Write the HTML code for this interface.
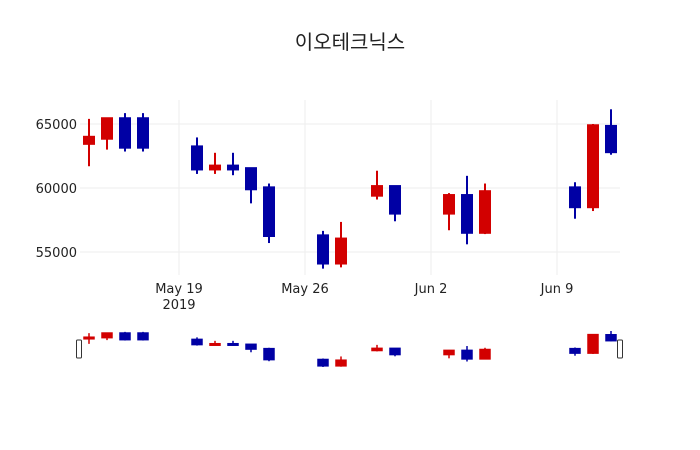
<!DOCTYPE html>
<html><head><meta charset="utf-8"><style>
body{margin:0;background:#fff;}
svg{display:block;font-family:"DejaVu Sans","Liberation Sans","Noto Sans CJK KR",sans-serif;}
</style></head><body>
<svg id="chart" width="700" height="450">
<rect width="700" height="450" fill="#fff"/>
<text x="350" y="49" text-anchor="middle" font-size="20" fill="#222" font-family="'Noto Sans CJK KR',sans-serif">이오테크닉스</text>
<g id="grid"></g><g id="main"></g><g id="slider"></g>
</svg>
<script>
const dates=["2019-05-14","2019-05-15","2019-05-16","2019-05-17","2019-05-20","2019-05-21","2019-05-22","2019-05-23","2019-05-24","2019-05-27","2019-05-28","2019-05-30","2019-05-31","2019-06-03","2019-06-04","2019-06-05","2019-06-10","2019-06-11","2019-06-12"];
const openV=[63450,63850,65450,65450,63250,61450,61750,61550,60050,56300,54100,59400,60150,58000,59450,56500,60050,58500,64850];
const highV=[65400,65450,65850,65850,63950,62750,62750,61550,60350,56650,57350,61350,60150,59600,60950,60350,60450,65000,66150];
const lowV=[61700,63000,62850,62850,61100,61100,61000,58800,55700,53700,53800,59100,57400,56700,55600,56400,57600,58200,62600];
const closeV=[64000,65450,63150,63150,61450,61750,61450,59900,56250,54100,56050,60150,58000,59450,56500,59750,58500,64900,62800];
const yTicks=[55000,60000,65000];
const xTicks=["2019-05-19","2019-05-26","2019-06-02","2019-06-09"];
const xTickLabels=["May 19","May 26","Jun 2","Jun 9"];

const NS="http://www.w3.org/2000/svg";
const x0=Date.parse("2019-05-13T12:00:00Z"), x1=Date.parse("2019-06-12T12:00:00Z");
const L=80,R=620;
function xs(d){return L+(Date.parse(d+"T00:00:00Z")-x0)/(x1-x0)*(R-L);}
function ys(v){return 124+(65000-v)/1000*12.8;}
const sMin=Math.min(...lowV), sMax=Math.max(...highV);
function ysS(v){return 367-(v-sMin)/(sMax-sMin)*36;}
function mk(tag,attrs,parent){const e=document.createElementNS(NS,tag);for(const k in attrs)e.setAttribute(k,attrs[k]);parent.appendChild(e);return e;}
const grid=document.getElementById('grid'),main=document.getElementById('main'),slider=document.getElementById('slider');
yTicks.forEach(v=>{
  const l=mk('line',{x1:L,x2:R,y1:ys(v),y2:ys(v),stroke:'#eee'},grid);
  
  
  const t=mk('text',{x:L-3,y:ys(v)+5,'text-anchor':'end','font-size':13,fill:'#222'},grid);
  t.textContent=v;
  
  
});
xTicks.forEach((d,i)=>{
  const x=xs(d);
  const l=mk('line',{x1:x,x2:x,y1:100,y2:275,stroke:'#eee'},grid);
  
  
  const t=mk('text',{x:x,y:293,'text-anchor':'middle','font-size':13,fill:'#222'},grid);
  t.textContent=xTickLabels[i];
  
  
});
const yr=mk('text',{x:xs(xTicks[0]),y:309,'text-anchor':'middle','font-size':13,fill:'#222'},grid);
yr.textContent="2019";


function candle(parent,i,yf,bw,lw){
  const x=xs(dates[i]);const up=closeV[i]>=openV[i];const c=up?'#d20000':'#0000a4';
  const g=mk('g',{},parent);
  
  
  mk('line',{x1:x,x2:x,y1:yf(highV[i]),y2:yf(lowV[i]),stroke:c,'stroke-width':lw},g);
  const t=yf(Math.max(openV[i],closeV[i])),b=yf(Math.min(openV[i],closeV[i]));
  mk('rect',{x:x-bw/2,y:t,width:bw,height:Math.max(b-t,1.5),fill:c,stroke:c,'stroke-width':lw},g);
}
for(let i=0;i<dates.length;i++){candle(main,i,ys,10,2);candle(slider,i,ysS,10,1.5);}
[79,620].forEach((x,k)=>{
  const h=mk('rect',{x:x-2.5,y:340,width:5,height:18,rx:1,fill:'#fff',stroke:'#333','stroke-width':1},slider);
  
  
});
</script>
</body></html>
